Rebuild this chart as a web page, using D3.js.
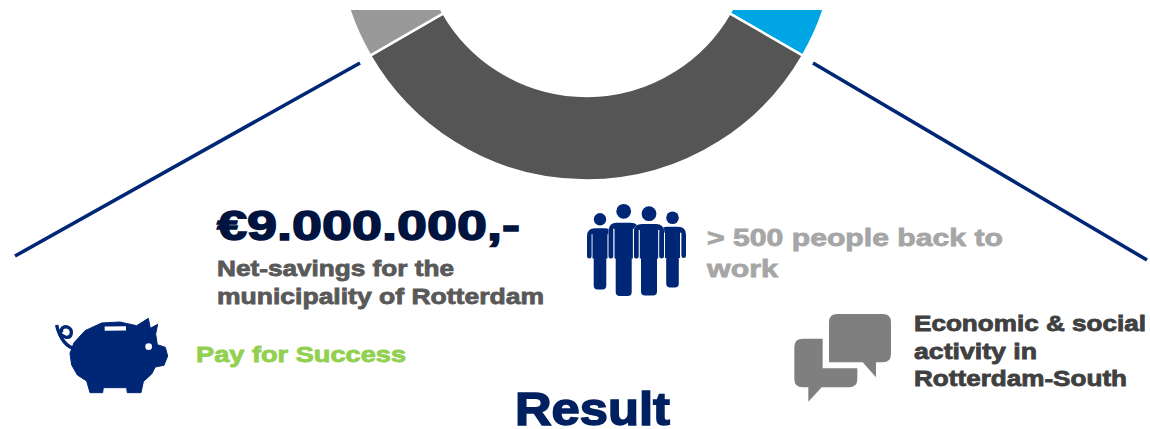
<!DOCTYPE html>
<html>
<head>
<meta charset="utf-8">
<script src="https://cdnjs.cloudflare.com/ajax/libs/d3/7.8.5/d3.min.js"></script>
<style>
html,body{margin:0;padding:0;background:#fff;overflow:hidden}
svg{display:block}
text{font-family:"Liberation Sans",Arial,sans-serif;font-weight:700}
</style>
</head>
<body>
<svg id="chart" width="1150" height="429"></svg>
<script>
// Ring segments: only the lower part of the ring is in view
const segmentNames = ["Blue", "Dark", "Grey"];
const segmentValues = [33.33, 33.33, 33.33];
const segmentColors = ["#00a5e3", "#555555", "#999999"];

// Labels: text, left edge, baseline, font size, drawn width, colour
const labels = [
  ["€9.000.000,-", 217, 240, 42, 303, "#00143f"],
  ["Net-savings for the", 217, 276, 22, 237, "#595959"],
  ["municipality of Rotterdam", 217, 304, 22, 327, "#595959"],
  ["> 500 people back to", 707, 246, 24.5, 296, "#a6a6a6"],
  ["work", 707, 277, 24.5, 71, "#a6a6a6"],
  ["Pay for Success", 196, 362, 22, 210, "#92d050"],
  ["Economic & social", 914, 331, 22, 232, "#404040"],
  ["activity in", 914, 359, 22, 123, "#404040"],
  ["Rotterdam-South", 914, 386, 22, 213, "#404040"],
  ["Result", 515, 425, 45.5, 155, "#002060"]
];

const navy = "#002776";
const slate = "#7f7f7f";
const svg = d3.select("#chart");

// Ring, clipped along its top edge
const ringCx = 586.5, ringCy = -69.3, outerR = 249.8, innerR = 165.3;
svg.append("clipPath").attr("id", "ringClip")
  .append("rect").attr("x", 0).attr("y", 10).attr("width", 1150).attr("height", 419);

const pie = d3.pie().sort(null);
const arc = d3.arc().innerRadius(innerR).outerRadius(outerR);
svg.append("g").attr("clip-path", "url(#ringClip)")
  .append("g").attr("transform", `translate(${ringCx},${ringCy})`)
  .selectAll("path")
  .data(pie(segmentValues))
  .join("path")
  .attr("d", arc)
  .attr("fill", (d, i) => segmentColors[i])
  .attr("stroke", "#fff")
  .attr("stroke-width", 2.4);

// Leader lines from the ring down to the two outcome groups
const leaders = [[[15, 256], [360, 63]], [[813, 63], [1147, 260]]];
svg.append("g").selectAll("path").data(leaders).join("path")
  .attr("d", d3.line())
  .attr("fill", "none")
  .attr("stroke", navy)
  .attr("stroke-width", 3.6);

// Group of four people
function personPath(cx, top, armHalf, legHalf, armW, armBottom, bottom) {
  const p = d3.path();
  const r = 8, slit = 1.2;
  const inner = legHalf + slit;
  p.moveTo(cx - armHalf, armBottom - armW / 2);
  p.lineTo(cx - armHalf, top + r);
  p.quadraticCurveTo(cx - armHalf, top, cx - armHalf + r, top);
  p.lineTo(cx + armHalf - r, top);
  p.quadraticCurveTo(cx + armHalf, top, cx + armHalf, top + r);
  p.lineTo(cx + armHalf, armBottom - armW / 2);
  p.arc(cx + armHalf - armW / 2, armBottom - armW / 2, armW / 2, 0, Math.PI);
  p.lineTo(cx + armHalf - armW, top + 6);
  p.lineTo(cx + inner, top + 6);
  p.lineTo(cx + inner, armBottom);
  p.lineTo(cx + legHalf, armBottom);
  p.lineTo(cx + legHalf, bottom - 4);
  p.quadraticCurveTo(cx + legHalf, bottom, cx + legHalf - 4, bottom);
  p.lineTo(cx - legHalf + 4, bottom);
  p.quadraticCurveTo(cx - legHalf, bottom, cx - legHalf, bottom - 4);
  p.lineTo(cx - legHalf, armBottom);
  p.lineTo(cx - inner, armBottom);
  p.lineTo(cx - inner, top + 6);
  p.lineTo(cx - armHalf + armW, top + 6);
  p.lineTo(cx - armHalf + armW, armBottom - armW / 2);
  p.arc(cx - armHalf + armW / 2, armBottom - armW / 2, armW / 2, 0, Math.PI);
  p.closePath();
  return p.toString();
}
const people = [
  { cx: 600, head: 219.3, r: 6.2, top: 228.3, arm: 13, leg: 6.3, armB: 258.5, bottom: 289.5 },
  { cx: 672.5, head: 217.7, r: 6.3, top: 226.7, arm: 13.5, leg: 6.3, armB: 258, bottom: 287.5 },
  { cx: 623.7, head: 211.3, r: 7.4, top: 222.7, arm: 15, leg: 8, armB: 258.5, bottom: 296 },
  { cx: 649, head: 213.7, r: 7.4, top: 224, arm: 15, leg: 8, armB: 258.5, bottom: 295.5 }
];
const crowd = svg.append("g").attr("fill", navy);
people.forEach(d => {
  crowd.append("circle").attr("cx", d.cx).attr("cy", d.head).attr("r", d.r);
  crowd.append("path")
    .attr("d", personPath(d.cx, d.top, d.arm, d.leg, 4.6, d.armB, d.bottom))
    .attr("stroke", "#fff").attr("stroke-width", 0.6).attr("paint-order", "stroke");
});

// Piggy bank
const pigOutline = [[140,213],[150,248],[188,248],[190,233],[260,233],[262,248],[303,248],[310,215],[335,192],[346,171],[372,166],[383,138],[376,112],[352,104],[347,72],[353,43],[331,55],[325,25],[290,47],[240,36],[185,39],[135,62],[102,98],[90,130],[95,165],[112,195]];
const pig = svg.append("g").attr("transform", "translate(40,310) scale(0.3333)");
pig.append("path")
  .attr("d", d3.line().curve(d3.curveLinearClosed)(pigOutline))
  .attr("fill", navy).attr("stroke", navy).attr("stroke-width", 3).attr("stroke-linejoin", "round");
pig.append("path")
  .attr("d", "M108,118 C80,112 58,85 50,45 C52,62 62,78 78,82 C96,84 100,60 84,52 C70,46 60,58 66,68")
  .attr("fill", "none").attr("stroke", navy).attr("stroke-width", 10);
pig.append("rect").attr("x", 194).attr("y", 49).attr("width", 64).attr("height", 13).attr("fill", "#fff").attr("transform", "rotate(-1 226 55)");
pig.append("circle").attr("cx", 326).attr("cy", 110).attr("r", 10).attr("fill", "#fff");

// Speech bubbles
const bubbles = svg.append("g").attr("transform", "translate(780,305) scale(0.3333)").attr("fill", slate);
bubbles.append("path").attr("d", "M172,27 H308 Q333,27 333,52 V147 Q333,172 308,172 H288 V217 L248,172 H147 V52 Q147,27 172,27 Z");
bubbles.append("path").attr("d", "M128,101 V190 H232 V222 Q232,247 207,247 H125 L85,290 V247 H68 Q43,247 43,222 V126 Q43,101 68,101 Z");

// Text blocks, stretched to their drawn widths and thickened a little
svg.append("g").selectAll("text").data(labels).join("text")
  .attr("x", d => d[1])
  .attr("y", d => d[2])
  .attr("font-size", d => d[3])
  .attr("textLength", d => d[4])
  .attr("lengthAdjust", "spacingAndGlyphs")
  .attr("fill", d => d[5])
  .attr("stroke", d => d[5])
  .attr("stroke-width", d => d[3] > 30 ? 1.5 : 0.8)
  .text(d => d[0]);
</script>
</body>
</html>
